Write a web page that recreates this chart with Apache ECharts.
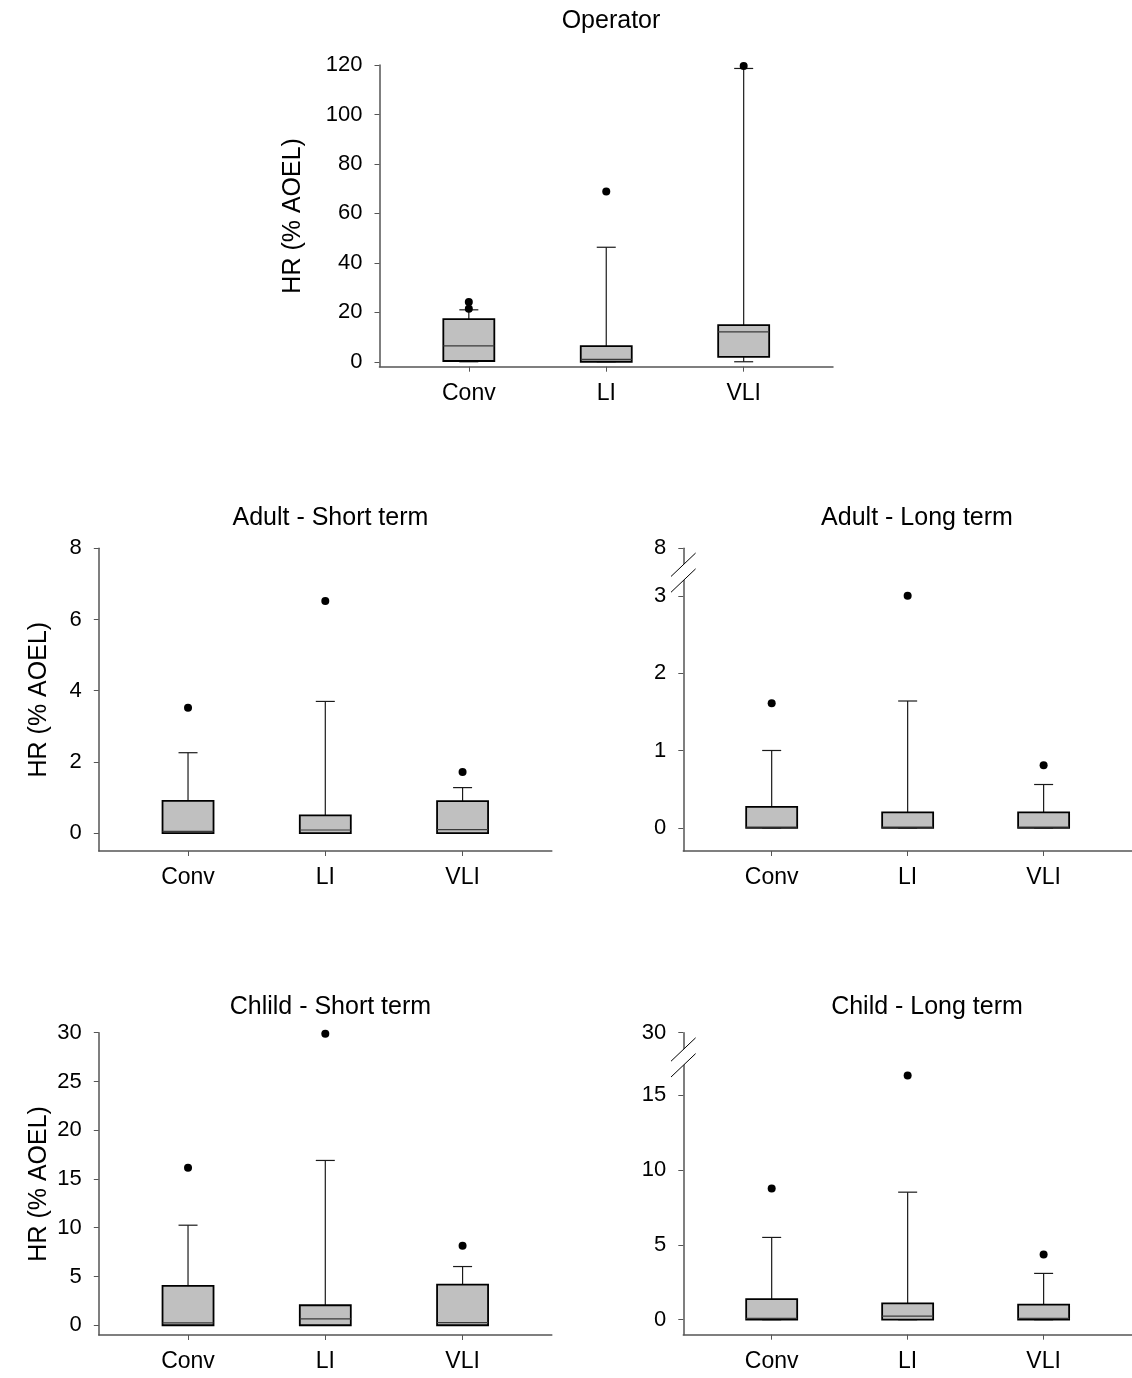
<!DOCTYPE html>
<html><head><meta charset="utf-8">
<script src="https://cdn.jsdelivr.net/npm/echarts@6/dist/echarts.min.js"></script>
<style>html,body{margin:0;padding:0;background:#fff}#c{width:1132px;height:1378px}</style>
</head><body><div id="c"></div>
<script>
// ---------- DATA ----------
const categories = ['Conv', 'LI', 'VLI'];
// each box: [min, Q1, median, Q3, max]
const operatorBoxes   = [[0, 0.3, 6.4, 17.2, 21.0], [0, 0, 1.0, 6.3, 46.3], [0, 2.0, 12.1, 14.8, 118.6]];
const operatorOutliers = [[1, 21.4], [1, 24.2], [2, 68.8], [3, 119.6]];
const adultShortBoxes = [[0, 0, 0.05, 0.91, 2.26], [0, 0, 0.09, 0.5, 3.7], [0, 0, 0.1, 0.9, 1.28]];
const adultShortOutliers = [[1, 3.52], [2, 6.52], [3, 1.72]];
const adultLongBoxes  = [[0, 0, 0.01, 0.27, 1.0], [0, 0, 0.01, 0.2, 1.64], [0, 0, 0.01, 0.2, 0.56]];
const adultLongOutliers = [[1, 1.61], [2, 3.0], [3, 0.81]];
const childShortBoxes = [[0, 0, 0.25, 4.03, 10.26], [0, 0, 0.65, 2.05, 16.9], [0, 0, 0.27, 4.17, 6.02]];
const childShortOutliers = [[1, 16.15], [2, 29.9], [3, 8.14]];
const childLongBoxes  = [[0, 0, 0.09, 1.38, 5.49], [0, 0, 0.24, 1.09, 8.51], [0, 0, 0.09, 1.0, 3.09]];
const childLongOutliers = [[1, 8.76], [2, 16.3], [3, 4.35]];

const operatorTicks   = [0, 20, 40, 60, 80, 100, 120];
const adultShortTicks = [0, 2, 4, 6, 8];
const adultLongTicks  = [0, 1, 2, 3];
const adultLongBreakLabel = 8;
const childShortTicks = [0, 5, 10, 15, 20, 25, 30];
const childLongTicks  = [0, 5, 10, 15];
const childLongBreakLabel = 30;

const titles = ['Operator', 'Adult - Short term', 'Adult - Long term', 'Chlild - Short term', 'Child - Long term'];
const yName = 'HR (% AOEL)';

// ---------- LAYOUT ----------
const FONT = "'Liberation Sans', Arial, sans-serif";
const panels = [
  {title: titles[0], boxes: operatorBoxes, out: operatorOutliers, ticks: operatorTicks, min: -2, max: 120,
   grid: {left: 379.5, top: 65, width: 453.5, height: 301.7}, titleX: 606, titleTop: 4, yName: true, nameGap: 74},
  {title: titles[1], boxes: adultShortBoxes, out: adultShortOutliers, ticks: adultShortTicks, min: -0.5, max: 8,
   grid: {left: 98.8, top: 548.3, width: 453, height: 302.7}, titleX: 325.4, titleTop: 501, yName: true, nameGap: 47},
  {title: titles[2], boxes: adultLongBoxes, out: adultLongOutliers, ticks: adultLongTicks, min: -0.3, max: 3.615,
   breakLabel: adultLongBreakLabel, breakMark: 3.3,
   grid: {left: 683.3, top: 548.3, width: 453, height: 302.7}, titleX: 912, titleTop: 501, yName: false},
  {title: titles[3], boxes: childShortBoxes, out: childShortOutliers, ticks: childShortTicks, min: -1, max: 30,
   grid: {left: 98.8, top: 1032.7, width: 453, height: 302.3}, titleX: 325.4, titleTop: 990, yName: true, nameGap: 47},
  {title: titles[4], boxes: childLongBoxes, out: childLongOutliers, ticks: childLongTicks, min: -1, max: 19.15,
   breakLabel: childLongBreakLabel, breakMark: 17.5,
   grid: {left: 683.3, top: 1032.7, width: 453, height: 302}, titleX: 922, titleTop: 990, yName: false}
];

const AXIS_COLOR = '#555';

function renderBox(params, api) {
  const x = api.value(0);
  const pMin = api.coord([x, api.value(1)]);
  const pQ1 = api.coord([x, api.value(2)]);
  const pMd = api.coord([x, api.value(3)]);
  const pQ3 = api.coord([x, api.value(4)]);
  const pMx = api.coord([x, api.value(5)]);
  const cx = pMin[0], hw = 25.5, cw = 9.5;
  const ws = {stroke: '#1a1a1a', lineWidth: 1.2};
  return {type: 'group', children: [
    {type: 'line', shape: {x1: cx, y1: pQ3[1], x2: cx, y2: pMx[1]}, style: ws},
    {type: 'line', shape: {x1: cx - cw, y1: pMx[1], x2: cx + cw, y2: pMx[1]}, style: ws},
    {type: 'line', shape: {x1: cx, y1: pQ1[1], x2: cx, y2: pMin[1]}, style: ws},
    {type: 'line', shape: {x1: cx - cw, y1: pMin[1], x2: cx + cw, y2: pMin[1]}, style: ws},
    {type: 'rect', shape: {x: cx - hw, y: pQ3[1], width: 2 * hw, height: pQ1[1] - pQ3[1]},
     style: {fill: '#c0c0c0', stroke: '#000', lineWidth: 1.8}},
    {type: 'line', shape: {x1: cx - hw, y1: pMd[1], x2: cx + hw, y2: pMd[1]}, style: {stroke: '#3a3a3a', lineWidth: 1.2}}
  ]};
}

function renderBreak(params, api) {
  const p = api.coord([api.value(0), api.value(1)]);
  const dx = 12.3, dy = 11.7, off = 7.9;
  const s = {stroke: '#000', lineWidth: 1};
  return {type: 'group', children: [
    {type: 'polygon', shape: {points: [[p[0] - dx, p[1] - off + dy], [p[0] + dx, p[1] - off - dy], [p[0] + dx, p[1] + off - dy], [p[0] - dx, p[1] + off + dy]]},
     style: {fill: '#fff', stroke: null}},
    {type: 'line', shape: {x1: p[0] - dx, y1: p[1] - off + dy, x2: p[0] + dx, y2: p[1] - off - dy}, style: s},
    {type: 'line', shape: {x1: p[0] - dx, y1: p[1] + off + dy, x2: p[0] + dx, y2: p[1] + off - dy}, style: s}
  ]};
}

const XMIN = 0.35, XMAX = 3.65;
const option = {
  animation: false,
  backgroundColor: '#fff',
  textStyle: {fontFamily: FONT},
  title: [], grid: [], xAxis: [], yAxis: [], series: []
};

panels.forEach((pn, i) => {
  option.title.push({text: pn.title, left: pn.titleX, top: pn.titleTop, textAlign: 'center',
    textStyle: {fontFamily: FONT, fontSize: 25, fontWeight: 'normal', color: '#000'}});
  option.grid.push(Object.assign({containLabel: false}, pn.grid));
  option.xAxis.push({
    type: 'value', gridIndex: i, min: XMIN, max: XMAX,
    splitLine: {show: false},
    axisLine: {show: true, onZero: false, lineStyle: {color: AXIS_COLOR, width: 1.5}},
    axisTick: {show: true, length: 5, customValues: [1, 2, 3], lineStyle: {color: AXIS_COLOR}},
    axisLabel: {customValues: [1, 2, 3], formatter: v => categories[Math.round(v) - 1], fontSize: 23, color: '#000',
      fontFamily: FONT, margin: 15}
  });
  const labelVals = pn.ticks.slice();
  if (pn.breakLabel !== undefined) labelVals.push(pn.max);
  option.yAxis.push({
    type: 'value', gridIndex: i, min: pn.min, max: pn.max,
    splitLine: {show: false},
    axisLine: {show: true, onZero: false, lineStyle: {color: AXIS_COLOR, width: 1.5}},
    axisTick: {show: true, length: 5, customValues: labelVals, lineStyle: {color: AXIS_COLOR}},
    axisLabel: {customValues: labelVals, fontSize: 22, color: '#000', fontFamily: FONT, margin: 17,
      formatter: v => (pn.breakLabel !== undefined && Math.abs(v - pn.max) < 1e-6) ? String(pn.breakLabel) : String(v)},
    name: pn.yName ? yName : '', nameLocation: 'middle', nameGap: pn.nameGap || 50, nameRotate: 90,
    nameTextStyle: {fontSize: 25, color: '#000', fontFamily: FONT}
  });
  option.series.push({
    type: 'custom', xAxisIndex: i, yAxisIndex: i, renderItem: renderBox,
    encode: {x: 0, y: [1, 2, 3, 4, 5]},
    data: pn.boxes.map((b, k) => [k + 1].concat(b)), z: 3
  });
  option.series.push({
    type: 'scatter', xAxisIndex: i, yAxisIndex: i, symbol: 'circle', symbolSize: 8,
    itemStyle: {color: '#000', opacity: 1}, data: pn.out, z: 4
  });
  if (pn.breakMark !== undefined) {
    option.series.push({
      type: 'custom', xAxisIndex: i, yAxisIndex: i, renderItem: renderBreak, clip: false,
      data: [[XMIN, pn.breakMark]], z: 5
    });
  }
});

const chart = echarts.init(document.getElementById('c'), null, {renderer: 'canvas'});
chart.setOption(option);
</script>
</body></html>
